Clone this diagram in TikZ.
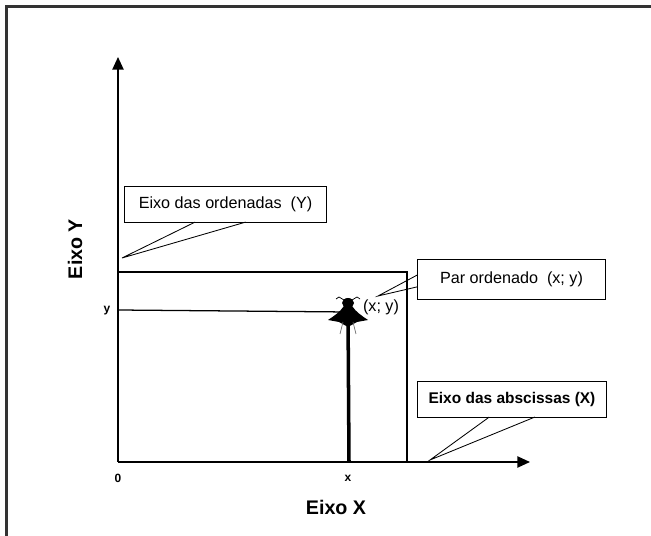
\documentclass[tikz,border=0pt]{standalone}
\usepackage{fontspec}
\setmainfont{Liberation Sans}
\usetikzlibrary{arrows.meta,calc}

\begin{document}
\begin{tikzpicture}
    [x=0.025cm,y=-0.025cm,
     callout/.style={rectangle,draw,line width=0.8pt,inner sep=0pt,outer sep=0pt,
       font=\fontsize{11.5}{13}\selectfont},
     axis/.style={line width=1.1pt,-{Triangle[length=9pt,width=8pt]}},
     guide/.style={line width=0.9pt},
     pointer/.style={line width=0.6pt},
     tick/.style={font=\bfseries\fontsize{8.5}{9}\selectfont},
     axislabel/.style={font=\bfseries\fontsize{14}{16}\selectfont}]
    \useasboundingbox (0,0) rectangle (651,536);
    % frame
    \draw[line width=1.8pt,black!80] (6.5,536) -- (6.5,6.5) -- (651,6.5);

    \coordinate (O) at (118,462);
    \coordinate (ytop) at (118,57);
    \coordinate (xend) at (530,462);
    \coordinate (yval) at (118,310);
    \coordinate (xval) at (349,462);
    \coordinate (fly) at (348,312);

    \draw[axis] (O) -- (ytop);
    \draw[axis] (O) -- (xend);

    % rectangle and guide lines
    \draw[guide] (118,272) -- (407,272) -- (407,462);
    \draw[guide] (yval) -- (fly);
    \draw[line width=2.5pt] (xval) -- (fly);

    % the fly
    \begin{scope}[shift={(fly)}]
      \fill (0,-9) ellipse (6 and 5);
      \fill (-4,-6) .. controls (-8,0) and (-14,4) .. (-20,8) -- (-9,10) -- (0,15)
            -- (9,10) -- (20,8) .. controls (14,4) and (8,0) .. (4,-6) -- cycle;
      \draw[line width=0.5pt] (-4,-12) -- (-9,-15) -- (-12,-13);
      \draw[line width=0.5pt] (4,-12) -- (9,-15) -- (12,-13);
      \draw[line width=0.5pt,black!60] (-5,10) -- (-8,22);
      \draw[line width=0.5pt,black!60] (5,10) -- (8,22);
    \end{scope}

    \node (zero) at (118,478) [tick] {0};
    \node (xlab) at (348,478) [tick] {x};
    \node (ylab) at (107,311) [tick] {y};
    \node (pair) at (381,307) [font=\fontsize{11.5}{13}\selectfont] {(x; y)};

    \node (eixox) at (336,507) [axislabel] {Eixo X};
    \node (eixoy) at (75,249) [axislabel,rotate=90] {Eixo Y};

    % callouts
    \node (ord) at (225.5,204.5) [callout,minimum width=144pt,minimum height=25pt]
      {Eixo das ordenadas\ \ (Y)};
    \coordinate (ordtip) at (122,258);
    \draw[pointer] ($(ord.south west)!0.35!(ord.south east)$) -- (ordtip)
      -- ($(ord.south west)!0.6!(ord.south east)$);

    \node (par) at (511.5,279.5) [callout,minimum width=134pt,minimum height=29pt]
      {Par ordenado\ \ (x; y)};
    \coordinate (partip) at (378,296);
    \draw[pointer] ($(par.north west)!0.39!(par.south west)$) -- (partip)
      -- ($(par.north west)!0.68!(par.south west)$);

    \node (abs) at (512,399.5) [callout,minimum width=135pt,minimum height=25pt,
      font=\bfseries\fontsize{11}{13}\selectfont]
      {Eixo das abscissas (X)};
    \coordinate (abstip) at (430,460);
    \draw[pointer] ($(abs.south west)!0.38!(abs.south east)$) -- (abstip)
      -- ($(abs.south west)!0.62!(abs.south east)$);
\end{tikzpicture}
\end{document}
